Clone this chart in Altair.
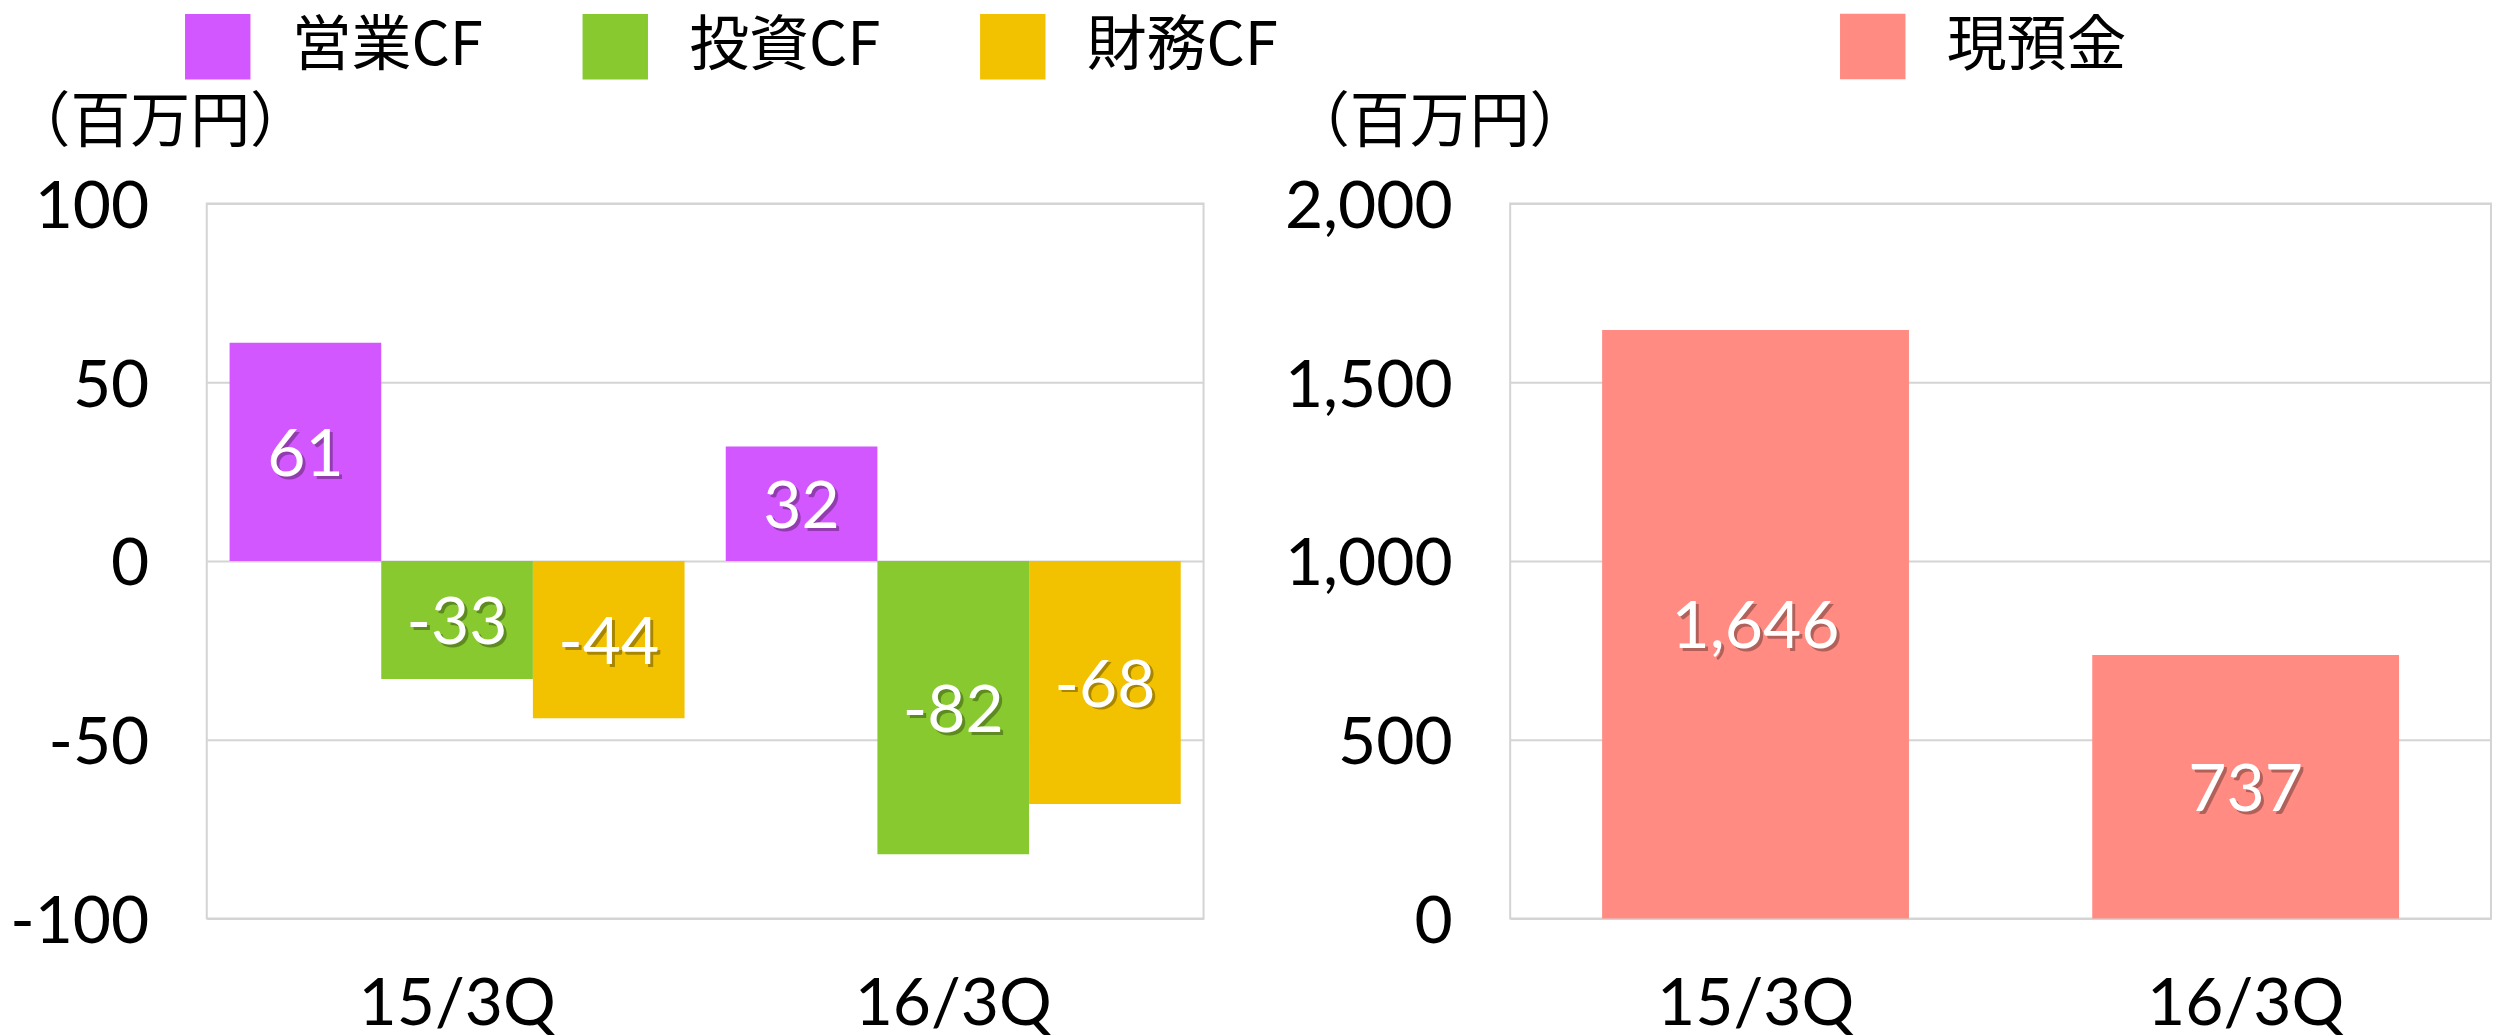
import altair as alt
import pandas as pd

# ---- data -------------------------------------------------------------
quarters = ["15/3Q", "16/3Q"]
cf_series = ["営業CF", "投資CF", "財務CF"]
cf_colors = ["#D257FE", "#87C92E", "#F2C200"]
op_cf = [61, 32]
inv_cf = [-33, -82]
fin_cf = [-44, -68]
cash_series = ["現預金"]
cash_colors = ["#FF8B82"]
cash = [1646, 737]
cf_ticks = [-100, -50, 0, 50, 100]
cash_ticks = [0, 500, 1000, 1500, 2000]
unit = "（百万円）"

rows = []
for i, q in enumerate(quarters):
    for s, vals in zip(cf_series, [op_cf, inv_cf, fin_cf]):
        v = vals[i]
        rows.append({"q": q, "s": s, "v": v, "mid": v / 2, "label": str(v)})
cf_df = pd.DataFrame(rows)

cash_df = pd.DataFrame({
    "q": quarters,
    "s": cash_series * len(quarters),
    "v": cash,
    "mid": [c / 2 for c in cash],
    "label": [f"{c:,}" for c in cash],
})

# ---- style ------------------------------------------------------------
NUM_FONT = "Lato"
JP_FONT = "Noto Sans CJK JP"
GRID = "#D4D4D4"
FS = 66


def x_enc(pi, po):
    return alt.X(
        "q:N", sort=quarters,
        scale=alt.Scale(paddingInner=pi, paddingOuter=po),
        axis=alt.Axis(title=None, labelAngle=0, ticks=False, domain=False,
                      labelFont=NUM_FONT, labelFontSize=FS, labelColor="black",
                      labelPadding=54, labelBaseline="top", labelLimit=0),
    )


def y_enc(field, domain, ticks, title_x, fmt_expr):
    return alt.Y(
        field, scale=alt.Scale(domain=domain, nice=False),
        axis=alt.Axis(values=ticks, labelExpr=fmt_expr, ticks=False, domain=False,
                      grid=True, gridColor=GRID, gridWidth=2,
                      labelFont=NUM_FONT, labelFontSize=FS, labelColor="black",
                      labelPadding=58, labelOffset=4, labelLimit=0,
                      title=unit, titleFont=JP_FONT, titleFontSize=60,
                      titleFontWeight="normal", titleColor="black",
                      titleAngle=0, titleAlign="left", titleBaseline="alphabetic",
                      titleX=title_x, titleY=-62),
    )


def legend(lx):
    return alt.Legend(orient="none", legendX=lx, legendY=-190, direction="horizontal",
                      title=None, symbolType="square", symbolSize=4290,
                      symbolStrokeWidth=0, labelFont=JP_FONT, labelFontSize=60,
                      labelColor="black", labelOffset=41, columnPadding=99,
                      padding=0, labelLimit=600)


# ---- left: cash flows ------------------------------------------------
xl = x_enc(0.083, 0.046)
xo = alt.XOffset("s:N", sort=cf_series, scale=alt.Scale(paddingInner=0, paddingOuter=0))
left_y_label = "datum.value"

bars_l = alt.Chart(cf_df).mark_bar().encode(
    x=xl, xOffset=xo,
    y=y_enc("v:Q", [-100, 100], cf_ticks, -197, left_y_label),
    color=alt.Color("s:N", sort=cf_series,
                    scale=alt.Scale(domain=cf_series, range=cf_colors),
                    legend=legend(-22)),
)
shadow_l = alt.Chart(cf_df).mark_text(
    font=NUM_FONT, fontSize=FS, color="black", opacity=0.3, dx=3, dy=7,
    align="center", baseline="middle",
).encode(x=xl, xOffset=xo,
         y=y_enc("mid:Q", [-100, 100], cf_ticks, -197, left_y_label),
         text="label:N")
text_l = alt.Chart(cf_df).mark_text(
    font=NUM_FONT, fontSize=FS, color="white", dy=4,
    align="center", baseline="middle",
).encode(x=xl, xOffset=xo,
         y=y_enc("mid:Q", [-100, 100], cf_ticks, -197, left_y_label),
         text="label:N")

left = alt.layer(bars_l, shadow_l, text_l).properties(width=998, height=716)

# ---- right: cash ------------------------------------------------------
xr = x_enc(0.374, 0.1876)
right_y_label = "format(datum.value, ',')"

bars_r = alt.Chart(cash_df).mark_bar().encode(
    x=xr,
    y=y_enc("v:Q", [0, 2000], cash_ticks, -221, right_y_label),
    color=alt.Color("s:N", scale=alt.Scale(domain=cash_series, range=cash_colors),
                    legend=legend(330)),
)
shadow_r = alt.Chart(cash_df).mark_text(
    font=NUM_FONT, fontSize=FS, color="black", opacity=0.3, dx=3, dy=7,
    align="center", baseline="middle",
).encode(x=xr, y=y_enc("mid:Q", [0, 2000], cash_ticks, -221, right_y_label),
         text="label:N")
text_r = alt.Chart(cash_df).mark_text(
    font=NUM_FONT, fontSize=FS, color="white", dy=4,
    align="center", baseline="middle",
).encode(x=xr, y=y_enc("mid:Q", [0, 2000], cash_ticks, -221, right_y_label),
         text="label:N")

right = alt.layer(bars_r, shadow_r, text_r).properties(width=982, height=716)

chart = (
    alt.hconcat(left, right, spacing=307, bounds="flush")
    .resolve_scale(color="independent", x="independent", y="independent")
    .properties(padding={"left": 0, "top": 4, "right": 0, "bottom": 4},
                background="white")
    .configure_view(stroke=GRID, strokeWidth=2)
)

chart.save("out.html", embed_options={"renderer": "svg", "actions": False})
